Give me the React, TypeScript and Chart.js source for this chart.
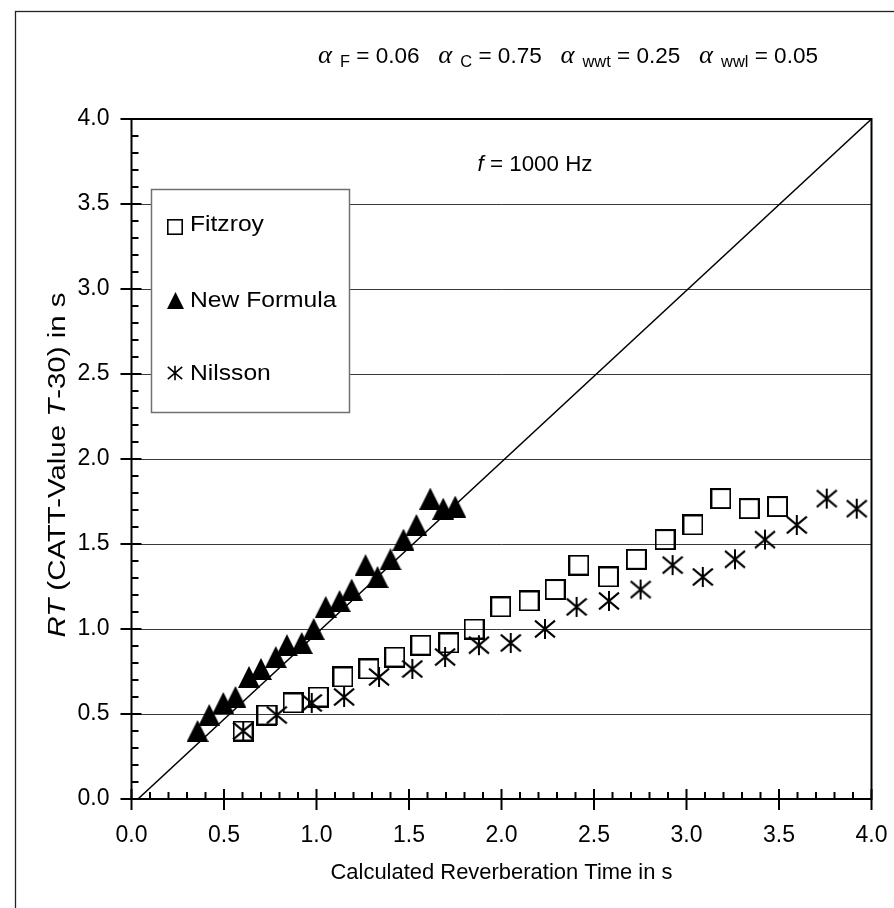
import React, { useEffect, useRef } from "react";
import { Chart, registerables } from "chart.js";
Chart.register(...registerables);

// CATT-Acoustic T-30 values (y) shared by all three series
const CATT_T30 = [0.40, 0.494, 0.565, 0.60, 0.718, 0.765, 0.835, 0.905, 0.918, 1.0, 1.13, 1.165, 1.232, 1.376, 1.306, 1.41, 1.526, 1.612, 1.767, 1.708, 1.72];
// Calculated reverberation times (x)
const FITZROY_X = [0.603, 0.732, 0.873, 1.01, 1.143, 1.283, 1.423, 1.564, 1.715, 1.852, 1.996, 2.149, 2.29, 2.418, 2.578, 2.729, 2.884, 3.035, 3.186, 3.339, 3.492];
const NEW_FORMULA_X = [0.357, 0.42, 0.496, 0.562, 0.635, 0.70, 0.78, 0.84, 0.92, 0.985, 1.05, 1.125, 1.19, 1.265, 1.33, 1.40, 1.47, 1.54, 1.615, 1.685, 1.75];
const NILSSON_X = [0.604, 0.785, 0.974, 1.149, 1.338, 1.518, 1.695, 1.878, 2.05, 2.235, 2.406, 2.581, 2.752, 2.925, 3.088, 3.262, 3.424, 3.596, 3.758, 3.92];
// Reference line
const REF_LINE_X = [0.035, 4.0];
const REF_LINE_Y = [0.0, 4.0];

const AXIS_MIN = 0;
const AXIS_MAX = 4;
const MAJOR_STEP = 0.5;
const MINOR_STEP = 0.1;

const LEGEND_LABELS = ["Fitzroy", "New Formula", "Nilsson"];
const PARAM_SUBS = ["F", "C", "wwt", "wwl"];
const PARAM_VALUES = ["0.06", "0.75", "0.25", "0.05"];
const FREQ_TEXT = "1000 Hz";
const X_TITLE = "Calculated Reverberation Time in s";

const SANS = '"Liberation Sans", Arial, sans-serif';
const SERIF = '"Liberation Serif", "Times New Roman", serif';

function makeSquare(size: number, lw: number) {
  const c = document.createElement("canvas");
  c.width = size; c.height = size;
  const g = c.getContext("2d")!;
  g.strokeStyle = "#000"; g.lineWidth = lw;
  g.strokeRect(lw / 2, lw / 2, size - lw, size - lw);
  return c;
}
function makeTriangle(w: number, h: number) {
  const c = document.createElement("canvas");
  c.width = w; c.height = h;
  const g = c.getContext("2d")!;
  g.fillStyle = "#000";
  g.beginPath(); g.moveTo(w / 2, 0); g.lineTo(w, h); g.lineTo(0, h); g.closePath(); g.fill();
  return c;
}
function makeAsterisk(size: number, lw: number) {
  const c = document.createElement("canvas");
  c.width = size; c.height = size;
  const g = c.getContext("2d")!;
  g.strokeStyle = "#000"; g.lineWidth = lw;
  const m = lw / 2;
  g.beginPath();
  g.moveTo(size / 2, m); g.lineTo(size / 2, size - m);
  g.moveTo(m, size * 0.12); g.lineTo(size - m, size * 0.88);
  g.moveTo(m, size * 0.88); g.lineTo(size - m, size * 0.12);
  g.stroke();
  return c;
}

type Run = { t: string; font: string; dy?: number };
function runsWidth(ctx: CanvasRenderingContext2D, runs: Run[]) {
  let w = 0;
  for (const r of runs) { ctx.font = r.font; w += ctx.measureText(r.t).width; }
  return w;
}
function drawRuns(ctx: CanvasRenderingContext2D, runs: Run[], x: number, y: number) {
  let cx = x;
  for (const r of runs) {
    ctx.font = r.font;
    ctx.fillText(r.t, cx, y + (r.dy || 0));
    cx += ctx.measureText(r.t).width;
  }
}
// draw runs stretched to a target length, centred on (cx, y)
function drawRunsFit(ctx: CanvasRenderingContext2D, runs: Run[], cx: number, y: number, target: number) {
  const w = runsWidth(ctx, runs);
  const s = target / w;
  ctx.save();
  ctx.translate(cx - target / 2, y);
  ctx.scale(s, 1);
  drawRuns(ctx, runs, 0, 0);
  ctx.restore();
}

export default function App() {
  const ref = useRef<HTMLCanvasElement>(null);
  useEffect(() => {
    const canvas = ref.current!;
    const sq = makeSquare(21, 2);
    const tri = makeTriangle(22, 22);
    const ast = makeAsterisk(22, 2);
    const sqL = makeSquare(16, 1.6);
    const triL = makeTriangle(17, 17);
    const astL = makeAsterisk(16, 1.6);

    const decor = {
      id: "decor",
      beforeDraw(chart: any) {
        const ctx = chart.ctx;
        ctx.save();
        ctx.fillStyle = "#fff";
        ctx.fillRect(0, 0, chart.width, chart.height);
        ctx.restore();
      },
      afterDraw(chart: any) {
        const ctx: CanvasRenderingContext2D = chart.ctx;
        const { left, right, top, bottom } = chart.chartArea;
        const xs = chart.scales.x, ys = chart.scales.y;
        ctx.save();
        // outer frame
        ctx.strokeStyle = "#222"; ctx.lineWidth = 1.3;
        ctx.strokeRect(15.5, 11.5, 2000, 2000);
        // plot frame and axes
        ctx.strokeStyle = "#000"; ctx.lineWidth = 2;
        ctx.strokeRect(left, top, right - left, bottom - top);
        // ticks
        ctx.beginPath();
        const n = Math.round((AXIS_MAX - AXIS_MIN) / MINOR_STEP);
        const every = Math.round(MAJOR_STEP / MINOR_STEP);
        for (let i = 0; i <= n; i++) {
          const v = AXIS_MIN + i * MINOR_STEP;
          const px = xs.getPixelForValue(v);
          const py = ys.getPixelForValue(v);
          if (i % every === 0) {
            ctx.moveTo(px, bottom - 10); ctx.lineTo(px, bottom + 11);
            ctx.moveTo(left - 11, py); ctx.lineTo(left + 10, py);
          } else {
            ctx.moveTo(px, bottom); ctx.lineTo(px, bottom - 7);
            ctx.moveTo(left, py); ctx.lineTo(left + 7, py);
          }
        }
        ctx.stroke();

        // legend
        const lx = 151.5, ly = 189.5, lw = 198, lh = 223;
        ctx.fillStyle = "#fff";
        ctx.fillRect(lx, ly, lw, lh);
        ctx.strokeStyle = "#707070"; ctx.lineWidth = 1.5;
        ctx.strokeRect(lx, ly, lw, lh);
        const markers = [sqL, triL, astL];
        const rowsY = [227, 300, 372.5];
        ctx.fillStyle = "#000";
        ctx.textBaseline = "alphabetic";
        ctx.textAlign = "left";
        for (let i = 0; i < 3; i++) {
          const m = markers[i];
          ctx.drawImage(m, Math.round(175 - m.width / 2), Math.round(rowsY[i] - m.height / 2));
          ctx.save();
          ctx.translate(190, rowsY[i] + 4 + (i === 0 ? 0 : 3));
          ctx.scale(1.12, 1);
          ctx.font = `22px ${SANS}`;
          ctx.fillText(LEGEND_LABELS[i], 0, 0);
          ctx.restore();
        }

        // top parameter line
        const runs: Run[] = [];
        for (let i = 0; i < PARAM_SUBS.length; i++) {
          runs.push({ t: "\u03B1", font: `italic 26px ${SERIF}` });
          runs.push({ t: "  ", font: `14px ${SANS}` });
          runs.push({ t: PARAM_SUBS[i], font: `16px ${SANS}`, dy: 4 });
          runs.push({ t: " = " + PARAM_VALUES[i], font: `22px ${SANS}` });
          if (i < PARAM_SUBS.length - 1) runs.push({ t: "   ", font: `22px ${SANS}` });
        }
        ctx.textBaseline = "alphabetic";
        drawRunsFit(ctx, runs, 568, 63, 500);

        // frequency label
        const fr: Run[] = [
          { t: "f", font: `italic 22px ${SANS}` },
          { t: " = " + FREQ_TEXT, font: `22px ${SANS}` },
        ];
        drawRunsFit(ctx, fr, 535, 171, 115);

        // x title
        ctx.textBaseline = "middle";
        const xt: Run[] = [{ t: X_TITLE, font: `22px ${SANS}` }];
        drawRunsFit(ctx, xt, (left + right) / 2, 873, 342);

        // y title
        const yr: Run[] = [
          { t: "RT", font: `italic 23px ${SANS}` },
          { t: " (CATT-Value ", font: `23px ${SANS}` },
          { t: "T", font: `italic 23px ${SANS}` },
          { t: "-30) in s", font: `23px ${SANS}` },
        ];
        ctx.translate(59, 465);
        ctx.rotate(-Math.PI / 2);
        drawRunsFit(ctx, yr, 0, 0, 345);
        ctx.restore();
      },
    };

    const chart = new Chart(canvas, {
      type: "scatter",
      data: {
        datasets: [
          {
            label: LEGEND_LABELS[1],
            data: NEW_FORMULA_X.map((x, i) => ({ x, y: CATT_T30[i] })),
            pointStyle: tri as any,
            pointRadius: 11,
            showLine: false,
          },
          {
            label: LEGEND_LABELS[0],
            data: FITZROY_X.map((x, i) => ({ x, y: CATT_T30[i] })),
            pointStyle: sq as any,
            pointRadius: 11,
            showLine: false,
          },
          {
            label: LEGEND_LABELS[2],
            data: NILSSON_X.map((x, i) => ({ x, y: CATT_T30[i] })),
            pointStyle: ast as any,
            pointRadius: 11,
            showLine: false,
          },
          {
            label: "reference",
            data: REF_LINE_X.map((x, i) => ({ x, y: REF_LINE_Y[i] })),
            showLine: true,
            borderColor: "#000",
            borderWidth: 1.5,
            pointRadius: 0,
            fill: false,
          },
        ],
      },
      options: {
        responsive: false,
        animation: false,
        devicePixelRatio: 1,
        events: [],
        layout: { padding: { left: 0, top: 119, right: 22.5, bottom: 0 } },
        plugins: { legend: { display: false }, tooltip: { enabled: false } },
        scales: {
          x: {
            type: "linear",
            position: "bottom",
            min: AXIS_MIN,
            max: AXIS_MAX,
            afterFit: (s: any) => { s.height = 109; s.paddingLeft = 0; s.paddingRight = 0; },
            ticks: {
              stepSize: MAJOR_STEP,
              callback: (v: any) => Number(v).toFixed(1),
              font: { family: SANS, size: 23 },
              color: "#000",
              padding: 23,
              maxRotation: 0,
              autoSkip: false,
            },
            grid: { display: false, drawTicks: false },
            border: { display: false },
          },
          y: {
            type: "linear",
            min: AXIS_MIN,
            max: AXIS_MAX,
            afterFit: (s: any) => { s.width = 131.5; s.paddingTop = 0; s.paddingBottom = 0; },
            ticks: {
              stepSize: MAJOR_STEP,
              callback: (v: any) => Number(v).toFixed(1),
              font: { family: SANS, size: 23 },
              color: "#000",
              padding: 22,
              autoSkip: false,
            },
            grid: { color: "#3a3a3a", lineWidth: 1, drawTicks: false },
            border: { display: false },
          },
        },
      },
      plugins: [decor],
    });
    return () => chart.destroy();
  }, []);

  return (
    <div style={{ position: "absolute", left: 0, top: 0, width: 894, height: 908, background: "#fff" }}>
      <canvas ref={ref} width={894} height={908} style={{ display: "block", width: 894, height: 908 }} />
    </div>
  );
}
